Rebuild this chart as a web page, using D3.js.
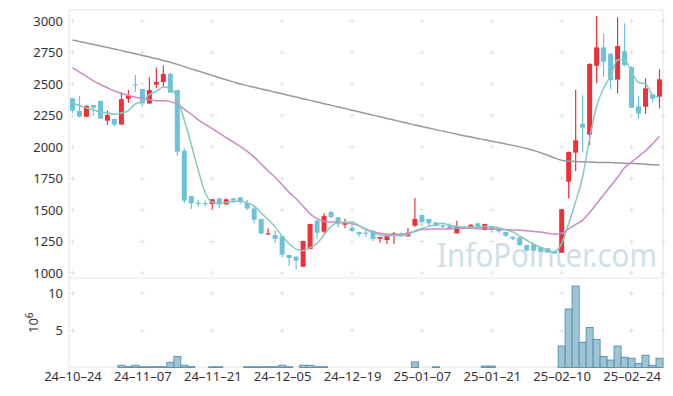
<!DOCTYPE html>
<html>
<head>
<meta charset="utf-8">
<script src="https://cdn.jsdelivr.net/npm/d3@7"></script>
<style>
  body { margin: 0; background: #fff; }
  svg text { font-family: "Noto Sans", sans-serif; }
</style>
</head>
<body>
<svg id="chart" width="673" height="396"></svg>
<script>
// trading days (yy-mm-dd)
const dates = [
  "24-10-24","24-10-25","24-10-28","24-10-29","24-10-30","24-10-31",
  "24-11-01","24-11-04","24-11-05","24-11-06","24-11-07","24-11-08","24-11-11","24-11-12","24-11-13",
  "24-11-14","24-11-15","24-11-18","24-11-19","24-11-20","24-11-21","24-11-22","24-11-25","24-11-26",
  "24-11-27","24-11-28","24-11-29",
  "24-12-02","24-12-03","24-12-04","24-12-05","24-12-06","24-12-09","24-12-10","24-12-11","24-12-12",
  "24-12-13","24-12-16","24-12-17","24-12-18","24-12-19","24-12-20","24-12-23","24-12-24","24-12-26",
  "24-12-27","24-12-30",
  "25-01-02","25-01-03","25-01-06","25-01-07","25-01-08","25-01-09","25-01-10","25-01-13","25-01-14",
  "25-01-15","25-01-16","25-01-17","25-01-20","25-01-21","25-01-22","25-01-23","25-01-24","25-01-31",
  "25-02-03","25-02-04","25-02-05","25-02-06","25-02-07","25-02-10","25-02-11","25-02-12","25-02-13",
  "25-02-14","25-02-17","25-02-18","25-02-19","25-02-20","25-02-21","25-02-24","25-02-25","25-02-26",
  "25-02-27","25-02-28"
];

const opens = [2386,2286,2240,2333,2365,2209,2222,2178,2382,2498,2460,2345,2495,2516,2580,2452,1970,1610,1558,1555,
  1548,1592,1545,1592,1600,1558,1513,1428,1310,1302,1294,1143,1130,1050,1190,1415,1328,1484,1442,1383,
  1360,1326,1320,1336,1272,1262,1302,1312,1291,1375,1460,1429,1402,1378,1373,1315,1368,1352,1394,1341,
  1373,1347,1326,1288,1282,1222,1228,1204,1196,1172,1161,1725,1955,2183,2098,2645,2791,2740,2535,2760,
  2633,2323,2320,2418,2399];
const highs = [2390,2405,2333,2335,2368,2290,2225,2435,2452,2571,2462,2553,2630,2648,2590,2455,1990,1612,1580,1575,
  1588,1598,1590,1595,1605,1580,1525,1430,1355,1341,1296,1145,1133,1256,1390,1418,1474,1495,1445,1431,
  1405,1330,1341,1340,1288,1305,1325,1322,1360,1595,1465,1432,1405,1390,1395,1415,1375,1386,1398,1391,
  1376,1350,1328,1290,1285,1225,1232,1208,1200,1178,1508,1965,2452,2410,2665,3040,2897,2745,3030,2982,
  2640,2405,2545,2420,2617];
const lows = [2270,2235,2238,2248,2222,2175,2162,2178,2352,2435,2323,2344,2466,2474,2430,1931,1553,1508,1527,1530,
  1505,1516,1543,1555,1548,1500,1395,1310,1302,1236,1127,1056,1030,1048,1188,1267,1315,1440,1362,1355,
  1323,1288,1286,1254,1240,1230,1230,1292,1290,1367,1373,1373,1370,1355,1345,1313,1350,1350,1350,1338,
  1320,1315,1285,1262,1215,1172,1175,1165,1158,1150,1158,1593,1809,1958,2016,2506,2558,2458,2426,2640,
  2310,2220,2262,2357,2307];
const closes = [2288,2241,2325,2312,2225,2254,2178,2380,2406,2490,2345,2452,2516,2579,2431,1963,1575,1553,1548,1545,
  1585,1543,1585,1575,1563,1512,1423,1312,1315,1270,1145,1119,1098,1254,1389,1320,1452,1442,1387,1405,
  1334,1308,1312,1270,1286,1302,1315,1302,1320,1429,1405,1395,1373,1367,1347,1373,1357,1383,1352,1389,
  1341,1331,1297,1272,1222,1178,1178,1170,1162,1155,1506,1960,2053,2154,2659,2791,2677,2532,2802,2650,
  2312,2265,2466,2383,2537];

// volume in millions of shares
const volumes = [0,0,0,0,0,0,0,0.3,0.12,0.3,0.1,0.1,0.1,0.1,0.7,1.5,0.3,0.12,0,0,
  0.1,0.1,0,0,0,0.1,0.1,0.1,0.1,0.1,0.3,0.1,0,0.3,0.3,0.1,0.1,0,0,0,
  0,0,0,0,0,0,0,0,0,0.75,0,0,0.1,0,0,0,0,0,0,0.2,
  0.2,0,0,0,0,0,0,0,0,0,2.9,7.9,11.0,3.4,5.4,3.8,1.5,1.0,2.9,1.4,
  1.25,0.55,1.65,0.3,1.25];

// moving averages
const ma5 = [2347,2330,2310,2295,2278,2271,2259,2270,2289,2342,2360,2415,2442,2476,2465,2388,2213,2020,1814,1637,
  1561,1555,1561,1567,1570,1556,1532,1477,1425,1366,1293,1232,1189,1177,1201,1236,1303,1371,1398,1401,
  1404,1375,1349,1326,1302,1296,1297,1295,1305,1334,1354,1370,1384,1394,1377,1371,1363,1365,1362,1371,
  1364,1359,1342,1326,1293,1260,1229,1204,1182,1169,1234,1391,1567,1766,2066,2323,2467,2563,2692,2690,
  2595,2512,2499,2415,2393];
const ma20 = [2630,2595,2560,2525,2495,2470,2445,2425,2410,2395,2385,2375,2368,2368,2360,2340,2300,2260,2215,2180,
  2145,2110,2075,2040,2005,1965,1920,1865,1810,1760,1700,1640,1590,1530,1470,1430,1410,1405,1405,1400,
  1390,1375,1345,1325,1315,1308,1305,1308,1315,1330,1345,1348,1350,1350,1352,1355,1355,1355,1352,1350,
  1350,1347,1345,1342,1340,1336,1330,1325,1315,1308,1315,1350,1385,1420,1480,1550,1620,1690,1760,1835,
  1880,1925,1970,2025,2085];
const ma120 = [2850,2838,2826,2814,2802,2790,2778,2765,2752,2740,2727,2714,2700,2687,2672,2656,2638,2620,2603,2585,
  2568,2550,2533,2517,2500,2487,2474,2461,2448,2435,2422,2409,2396,2383,2370,2357,2344,2331,2318,2305,
  2292,2279,2266,2253,2240,2227,2214,2201,2188,2175,2162,2150,2138,2126,2114,2102,2090,2079,2068,2057,
  2046,2035,2024,2013,2001,1988,1972,1955,1935,1912,1895,1888,1884,1882,1880,1878,1877,1876,1874,1872,
  1870,1867,1864,1860,1857];

const priceTicks = [1000,1250,1500,1750,2000,2250,2500,2750,3000];
const volumeTicks = [5,10];
const dateTickIdx = [0,10,20,30,40,50,60,70,80];

const UP = "#ee3139", DOWN = "#6cc3d9";
const plotLeft = 69, plotRight = 663, plotTop = 10, plotMid = 278, plotBottom = 367;

const svg = d3.select("#chart");

const x = d3.scaleLinear().domain([-0.5, dates.length - 0.5]).range([plotLeft, plotRight]);
const y = d3.scaleLinear().domain([1000, 3000]).range([273, 21]);
const yv = d3.scaleLinear().domain([0, 10]).range([367.5, 293.5]);

// watermark
svg.append("text")
  .attr("x", 437).attr("y", 267)
  .attr("font-size", 33)
  .attr("textLength", 220)
  .attr("lengthAdjust", "spacingAndGlyphs")
  .attr("fill", "#cfdfe8")
  .text("InfoPointer.com");

// frame
const frame = svg.append("g").attr("stroke", "#e4e4e4").attr("fill", "none");
frame.append("rect").attr("x", plotLeft).attr("y", plotTop)
  .attr("width", plotRight - plotLeft).attr("height", plotBottom - plotTop);
frame.append("line").attr("x1", plotLeft).attr("x2", plotRight).attr("y1", plotMid).attr("y2", plotMid);

// small crosses at grid intersections
const crossX = dateTickIdx.map(i => x(i)).concat([plotRight]);
const crossY = priceTicks.map(y).concat(volumeTicks.map(yv));
const crosses = svg.append("g").attr("stroke", "#e2e2e2").attr("stroke-width", 1);
crossX.forEach(cx => crossY.forEach(cy => {
  crosses.append("line").attr("x1", cx - 2.5).attr("x2", cx + 2.5).attr("y1", cy).attr("y2", cy);
  crosses.append("line").attr("x1", cx).attr("x2", cx).attr("y1", cy - 2.5).attr("y2", cy + 2.5);
}));

// axes
const axisStyle = g => {
  g.select(".domain").remove();
  g.selectAll("text").attr("fill", "#333").attr("font-size", 13)
    .style("font-family", '"Noto Sans", sans-serif');
};
svg.append("g").attr("transform", `translate(${plotLeft},0)`)
  .call(d3.axisLeft(y).tickValues(priceTicks).tickSize(0).tickPadding(6).tickFormat(d3.format("d")))
  .call(axisStyle);
svg.append("g").attr("transform", `translate(${plotLeft},0)`)
  .call(d3.axisLeft(yv).tickValues(volumeTicks).tickSize(0).tickPadding(6))
  .call(axisStyle);
svg.append("g").attr("transform", `translate(0,${plotBottom})`)
  .call(d3.axisBottom(x).tickValues(dateTickIdx).tickSize(0).tickPadding(5)
    .tickFormat(i => dates[i].replace(/-/g, "\u2013")))
  .call(axisStyle);

// volume axis unit label
const vl = svg.append("text")
  .attr("transform", "translate(38,333) rotate(-90)")
  .attr("font-size", 13).attr("fill", "#333");
vl.append("tspan").text("10");
vl.append("tspan").attr("dy", -5).attr("font-size", 10).text("6");

// volume bars
svg.append("g").selectAll("rect")
  .data(volumes.map((v, i) => ({ v, i })).filter(d => d.v > 0))
  .join("rect")
  .attr("x", d => x(d.i - 0.5))
  .attr("width", x(1) - x(0))
  .attr("y", d => yv(d.v))
  .attr("height", d => yv(0) - yv(d.v))
  .attr("fill", "#95bfd0").attr("fill-opacity", 0.9)
  .attr("stroke", "#5b95b0").attr("stroke-width", 1);

// candles
const candles = dates.map((d, i) => ({ i, o: opens[i], h: highs[i], l: lows[i], c: closes[i] }));
const cg = svg.append("g").selectAll("g").data(candles).join("g")
  .attr("fill", d => d.c >= d.o ? UP : DOWN)
  .attr("stroke", d => d.c >= d.o ? UP : DOWN);
cg.append("line")
  .attr("x1", d => x(d.i)).attr("x2", d => x(d.i))
  .attr("y1", d => y(d.h)).attr("y2", d => y(d.l))
  .attr("stroke-width", 1.2);
cg.append("rect")
  .attr("x", d => x(d.i) - 2.5).attr("width", 5)
  .attr("y", d => y(Math.max(d.o, d.c)))
  .attr("height", d => Math.max(1.2, Math.abs(y(d.o) - y(d.c))))
  .attr("stroke", "none");

// moving averages
const line = d3.line().x((d, i) => x(i)).y(d => y(d)).curve(d3.curveMonotoneX);
[[ma120, "#999999"], [ma20, "#c98bc5"], [ma5, "#86c9bd"]].forEach(([data, col]) => {
  svg.append("path").datum(data)
    .attr("d", line)
    .attr("fill", "none")
    .attr("stroke", col)
    .attr("stroke-width", 1.5);
});
</script>
</body>
</html>
